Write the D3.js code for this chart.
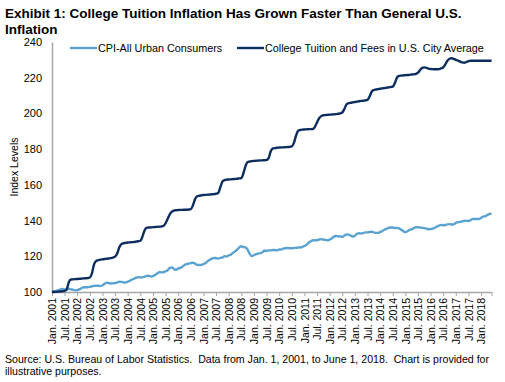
<!DOCTYPE html>
<html>
<head>
<meta charset="utf-8">
<script src="https://cdn.jsdelivr.net/npm/d3@7"></script>
<style>
  html, body { margin: 0; padding: 0; background: #fff; }
  svg { display: block; font-family: "Liberation Sans", Arial, sans-serif; }
</style>
</head>
<body>
<svg id="chart" width="505" height="382"></svg>
<script>
// ---------- DATA ----------
const titleLines = ["Exhibit 1: College Tuition Inflation Has Grown Faster Than General U.S.", "Inflation"];
const yAxisTitle = "Index Levels";
const footnoteLines = ["Source: U.S. Bureau of Labor Statistics.  Data from Jan. 1, 2001, to June 1, 2018.  Chart is provided for", "illustrative purposes."];
const seriesNames = ["CPI-All Urban Consumers", "College Tuition and Fees in U.S. City Average"];
const seriesColors = ["#5aa3d0", "#0c2d5e"];

// monthly observations, Jan. 2001 .. Jun. 2018 (index, Jan. 2001 = 100)
const startYear = 2001;
const cpiValues = [
  100.0,100.4,100.6,101.0,101.5,101.7,101.4,101.4,101.8,101.5,101.3,100.9,
  101.1,101.5,102.1,102.7,102.7,102.7,102.9,103.2,103.4,103.5,103.5,103.3,
  103.8,104.6,105.2,105.0,104.8,104.9,105.0,105.4,105.8,105.7,105.4,105.3,
  105.8,106.3,107.0,107.4,108.0,108.3,108.2,108.2,108.5,109.0,109.1,108.7,
  108.9,109.5,110.4,111.1,111.0,111.1,111.6,112.2,113.5,113.8,112.9,112.4,
  113.2,113.5,114.1,115.1,115.6,115.9,116.2,116.4,115.9,115.2,115.1,115.2,
  115.6,116.2,117.3,118.0,118.7,119.0,119.0,118.7,119.1,119.3,120.0,119.9,
  120.5,120.9,121.9,122.7,123.7,125.0,125.6,125.1,125.0,123.7,121.3,120.1,
  120.6,121.2,121.5,121.8,122.1,123.2,123.0,123.3,123.3,123.5,123.5,123.3,
  123.8,123.8,124.3,124.5,124.6,124.5,124.5,124.7,124.7,124.9,125.0,125.2,
  125.8,126.4,127.6,128.4,129.0,128.9,129.0,129.4,129.6,129.3,129.2,128.9,
  129.4,130.0,131.0,131.4,131.2,131.1,130.8,131.6,132.2,132.1,131.5,131.1,
  131.5,132.6,132.9,132.8,133.0,133.4,133.4,133.6,133.7,133.4,133.1,133.1,
  133.6,134.1,134.9,135.4,135.9,136.1,136.1,135.8,135.9,135.6,134.9,134.1,
  133.5,134.0,134.8,135.1,135.8,136.3,136.3,136.1,135.9,135.8,135.5,135.1,
  135.3,135.4,136.0,136.7,137.2,137.6,137.4,137.5,137.9,138.0,137.8,137.9,
  138.7,139.1,139.2,139.6,139.8,139.9,139.8,140.2,140.9,140.9,140.9,140.8,
  141.6,142.2,142.5,143.1,143.7,143.9
];
const tuitionValues = [
  100.0,100.0,100.1,100.2,100.3,100.4,100.6,101.5,105.5,107.0,107.1,107.2,
  107.3,107.4,107.5,107.6,107.7,107.8,108.1,110.5,115.5,117.4,117.8,118.1,
  118.3,118.5,118.6,118.8,119.0,119.3,119.8,121.5,125.0,126.8,127.3,127.5,
  127.7,127.8,127.9,128.0,128.2,128.4,128.7,131.0,134.5,136.0,136.1,136.2,
  136.3,136.4,136.5,136.6,136.7,137.0,138.5,141.0,143.5,145.0,145.6,145.8,
  145.9,146.0,146.0,146.1,146.1,146.2,146.4,148.5,152.0,153.6,153.9,154.1,
  154.3,154.4,154.5,154.6,154.7,154.8,155.0,155.4,158.5,161.8,162.7,162.9,
  163.0,163.1,163.2,163.3,163.4,163.6,163.8,166.5,170.5,172.8,173.1,173.3,
  173.4,173.5,173.6,173.7,173.7,173.8,173.9,175.0,178.8,180.4,180.6,180.8,
  180.9,181.0,181.0,181.1,181.2,181.3,181.5,183.5,187.5,190.3,190.7,190.9,
  191.0,191.1,191.2,191.2,191.3,192.5,195.0,197.3,198.5,199.0,199.1,199.2,
  199.3,199.4,199.5,199.6,199.8,200.0,200.5,202.5,205.0,205.7,206.0,206.2,
  206.4,206.6,206.8,207.0,207.1,207.3,207.6,209.5,212.2,213.1,213.4,213.6,
  213.8,214.0,214.2,214.4,214.6,214.8,215.0,217.0,220.0,221.0,221.2,221.3,
  221.4,221.5,221.6,221.8,221.9,222.1,222.8,224.3,225.5,225.8,225.5,225.1,
  224.9,224.8,224.7,224.7,224.8,225.2,225.8,227.5,229.5,230.6,230.9,230.6,
  230.0,229.6,229.0,228.6,228.4,228.8,229.3,229.5,229.5,229.5,229.5,229.5,
  229.5,229.5,229.5,229.5,229.5,229.5
];
const xTickLabels = [
  "Jan. 2001","Jul. 2001","Jan. 2002","Jul. 2002","Jan. 2003","Jul. 2003","Jan. 2004","Jul. 2004",
  "Jan. 2005","Jul. 2005","Jan. 2006","Jul. 2006","Jan. 2007","Jul. 2007","Jan. 2008","Jul. 2008",
  "Jan. 2009","Jul. 2009","Jan. 2010","Jul. 2010","Jan. 2011","Jul. 2011","Jan. 2012","Jul. 2012",
  "Jan. 2013","Jul. 2013","Jan. 2014","Jul. 2014","Jan. 2015","Jul. 2015","Jan. 2016","Jul. 2016",
  "Jan. 2017","Jul. 2017","Jan. 2018"
];
const yTicks = [100, 120, 140, 160, 180, 200, 220, 240];

// ---------- CHART ----------
const svg = d3.select("#chart");
const plot = { left: 52, right: 491.6, top: 42, bottom: 292 };

const nMonths = cpiValues.length;
const x = d3.scaleLinear().domain([0, nMonths - 1]).range([plot.left, plot.right]);
const y = d3.scaleLinear().domain([100, 240]).range([plot.bottom, plot.top]);

// title
svg.append("g").selectAll("text").data(titleLines).join("text")
  .attr("x", 5).attr("y", (d, i) => 18 + i * 15.5)
  .style("font-size", "13.5px").style("font-weight", "bold").attr("fill", "#000")
  .text(d => d);

// y axis
const yAxis = svg.append("g").attr("transform", `translate(${plot.left},0)`)
  .call(d3.axisLeft(y).tickValues(yTicks).tickSize(0).tickPadding(10).tickFormat(d3.format("d")));
yAxis.select(".domain").attr("stroke", "#a6a6a6").attr("stroke-width", 1.5);
yAxis.selectAll("text").style("font-size", "11px").attr("fill", "#000").style("font-family", "Liberation Sans, Arial, sans-serif");

// y axis title
svg.append("text")
  .attr("transform", `translate(18,${(plot.top + plot.bottom) / 2}) rotate(-90)`)
  .attr("text-anchor", "middle")
  .style("font-size", "10.5px").attr("fill", "#000")
  .text(yAxisTitle);

// x axis
const tickIdx = xTickLabels.map((d, i) => i * 6).concat([nMonths - 1]);
const xAxis = svg.append("g").attr("transform", `translate(0,${plot.bottom})`)
  .call(d3.axisBottom(x).tickValues(tickIdx).tickSizeInner(4).tickSizeOuter(0)
    .tickFormat(d => (d % 6 === 0 && d / 6 < xTickLabels.length) ? xTickLabels[d / 6] : ""));
xAxis.select(".domain").attr("stroke", "#a6a6a6").attr("stroke-width", 1.5);
xAxis.selectAll(".tick line").attr("stroke", "#a6a6a6");
xAxis.selectAll("text")
  .attr("transform", "rotate(-90)")
  .attr("x", -6).attr("y", 0).attr("dy", "0.35em")
  .style("text-anchor", "end").style("font-size", "10.5px").attr("fill", "#000")
  .style("font-family", "Liberation Sans, Arial, sans-serif");

// lines
const series = [cpiValues, tuitionValues];
const line = d3.line().x((d, i) => x(i)).y(d => y(d)).curve(d3.curveMonotoneX);
svg.append("g").selectAll("path").data(series).join("path")
  .attr("d", d => line(d))
  .attr("fill", "none")
  .attr("stroke", (d, i) => seriesColors[i])
  .attr("stroke-width", 2.4)
  .attr("stroke-linejoin", "round");

// legend
const legendPos = [70, 237];
const lg = svg.append("g").selectAll("g").data(seriesNames).join("g")
  .attr("transform", (d, i) => `translate(${legendPos[i]},48)`);
lg.append("line").attr("x1", 0).attr("x2", 27).attr("y1", 0).attr("y2", 0)
  .attr("stroke", (d, i) => seriesColors[i]).attr("stroke-width", 2.4);
lg.append("text").attr("x", 28).attr("y", 4)
  .style("font-size", "10.8px").attr("fill", "#000").text(d => d);

// footnote
svg.append("g").selectAll("text").data(footnoteLines).join("text")
  .attr("x", 5).attr("y", (d, i) => 363 + i * 11.5)
  .style("font-size", "10.6px").style("white-space", "pre").attr("fill", "#000")
  .text(d => d);
</script>
</body>
</html>
